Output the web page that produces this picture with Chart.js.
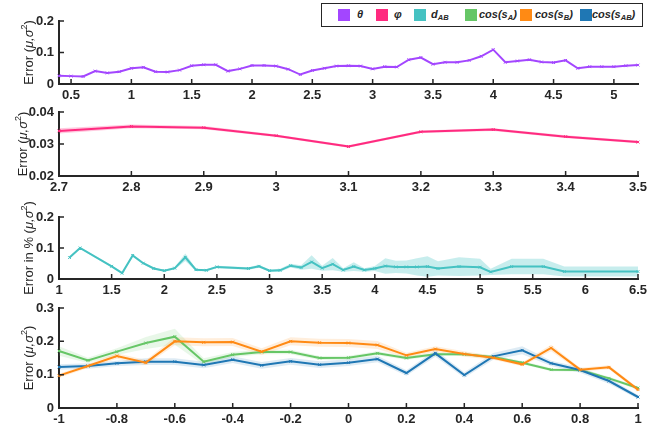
<!DOCTYPE html>
<html>
<head>
<meta charset="utf-8">
<script src="https://cdn.jsdelivr.net/npm/chart.js@4/dist/chart.umd.min.js"></script>
<style>
  html, body { margin: 0; padding: 0; background: #fff; }
  #wrap { position: relative; width: 665px; height: 427px; overflow: hidden; background: #fff; }
  #wrap canvas { position: absolute; left: 0; top: 0; }
  #legend {
    position: absolute; left: 321px; top: 3px; width: 322px; height: 24px;
    box-sizing: border-box; border: 1.5px solid #262626; background: #fff; z-index: 10;
    font-family: 'Liberation Sans', Arial, Helvetica, sans-serif;
    font-style: italic; font-weight: bold; font-size: 11px; color: #262626;
  }
  #legend .sw { position: absolute; top: 5px; width: 12px; height: 12px; }
  #legend .lb { position: absolute; top: 4px; line-height: 13px; white-space: nowrap; }
  #legend sub { font-size: 7.5px; vertical-align: -2px; line-height: 0; }
</style>
</head>
<body>
<div id="wrap">
  <canvas id="p1" width="665" height="427"></canvas>
  <canvas id="p2" width="665" height="427"></canvas>
  <canvas id="p3" width="665" height="427"></canvas>
  <canvas id="p4" width="665" height="427"></canvas>
  <div id="legend">
    <span class="sw" style="left:16px;background:#a346ff"></span><span class="lb" style="left:35px">θ</span>
    <span class="sw" style="left:54px;background:#ff2a7f"></span><span class="lb" style="left:72px">φ</span>
    <span class="sw" style="left:92px;background:#45c2c2"></span><span class="lb" style="left:109px">d<sub>AB</sub></span>
    <span class="sw" style="left:143px;background:#66c666"></span><span class="lb" style="left:157px">cos(s<sub>A</sub>)</span>
    <span class="sw" style="left:198px;background:#ff8a14"></span><span class="lb" style="left:213px">cos(s<sub>B</sub>)</span>
    <span class="sw" style="left:258px;background:#1f77b4"></span><span class="lb" style="left:270px">cos(s<sub>AB</sub>)</span>
  </div>
</div>
<script>
// ---- θ panel ----
const thetaX = [0.4, 0.5, 0.6, 0.7, 0.8, 0.9, 1.0, 1.1, 1.2, 1.3, 1.4, 1.5, 1.6, 1.7, 1.8, 1.9, 2.0,
  2.1, 2.2, 2.3, 2.4, 2.5, 2.6, 2.7, 2.8, 2.9, 3.0, 3.1, 3.2, 3.3, 3.4, 3.5, 3.6, 3.7, 3.8, 3.9,
  4.0, 4.1, 4.2, 4.3, 4.4, 4.5, 4.6, 4.7, 4.8, 4.9, 5.0, 5.1, 5.2];
const thetaErr = [0.026, 0.025, 0.024, 0.041, 0.035, 0.039, 0.050, 0.053, 0.039, 0.038, 0.044,
  0.058, 0.061, 0.061, 0.041, 0.048, 0.059, 0.059, 0.057, 0.047, 0.030, 0.043, 0.050, 0.057,
  0.058, 0.057, 0.048, 0.055, 0.054, 0.077, 0.084, 0.063, 0.069, 0.069, 0.075, 0.088, 0.109,
  0.069, 0.073, 0.077, 0.070, 0.068, 0.075, 0.050, 0.055, 0.055, 0.055, 0.058, 0.060];
const thetaTicksX = [0.5, 1, 1.5, 2, 2.5, 3, 3.5, 4, 4.5, 5];
const thetaTicksY = [0, 0.1, 0.2];

// ---- φ panel ----
const phiX = [2.7, 2.8, 2.9, 3.0, 3.1, 3.2, 3.3, 3.4, 3.5];
const phiErr = [0.0341, 0.0355, 0.0351, 0.0326, 0.0292, 0.0338, 0.0345, 0.0323, 0.0306];
const phiSpread = [0.0008, 0.0006, 0.0005, 0.0004, 0.0004, 0.0004, 0.0004, 0.0004, 0.0004];
const phiTicksX = [2.7, 2.8, 2.9, 3.0, 3.1, 3.2, 3.3, 3.4, 3.5];
const phiTicksY = [0.02, 0.03, 0.04];

// ---- d_AB panel ----
const dabX = [1.1, 1.2, 1.5, 1.6, 1.7, 1.8, 1.9, 2.0, 2.1, 2.2, 2.3, 2.4, 2.5, 2.8, 2.9, 3.0,
  3.1, 3.2, 3.3, 3.4, 3.5, 3.6, 3.7, 3.8, 3.9, 4.0, 4.1, 4.2, 4.3, 4.4, 4.5, 4.6, 4.8, 5.0,
  5.1, 5.3, 5.6, 5.8, 6.5];
const dabErr = [0.069, 0.100, 0.041, 0.019, 0.076, 0.051, 0.034, 0.027, 0.035, 0.070, 0.030,
  0.028, 0.039, 0.034, 0.041, 0.027, 0.028, 0.043, 0.037, 0.055, 0.035, 0.048, 0.029, 0.040,
  0.029, 0.034, 0.042, 0.039, 0.039, 0.039, 0.040, 0.034, 0.040, 0.038, 0.023, 0.040, 0.040,
  0.024, 0.024];
const dabSpread = [0.003, 0.003, 0.003, 0.003, 0.004, 0.004, 0.003, 0.003, 0.004, 0.012, 0.004,
  0.003, 0.004, 0.004, 0.005, 0.004, 0.005, 0.006, 0.007, 0.022, 0.008, 0.020, 0.006, 0.014,
  0.006, 0.008, 0.025, 0.020, 0.021, 0.028, 0.033, 0.023, 0.030, 0.027, 0.010, 0.025, 0.025,
  0.016, 0.016];
const dabTicksX = [1, 1.5, 2, 2.5, 3, 3.5, 4, 4.5, 5, 5.5, 6, 6.5];
const dabTicksY = [0, 0.1, 0.2];

// ---- cosine panel ----
const cosX = [-1, -0.9, -0.8, -0.7, -0.6, -0.5, -0.4, -0.3, -0.2, -0.1, 0, 0.1, 0.2, 0.3, 0.4,
  0.5, 0.6, 0.7, 0.8, 0.9, 1];
const cosA = [0.171, 0.143, 0.169, 0.195, 0.214, 0.139, 0.160, 0.168, 0.168, 0.150, 0.151,
  0.164, 0.150, 0.161, 0.161, 0.153, 0.136, 0.115, 0.114, 0.089, 0.060];
const cosASpread = [0.014, 0.008, 0.010, 0.018, 0.024, 0.010, 0.008, 0.007, 0.007, 0.006, 0.006,
  0.006, 0.005, 0.005, 0.005, 0.005, 0.005, 0.005, 0.005, 0.005, 0.005];
const cosB = [0.097, 0.126, 0.156, 0.136, 0.200, 0.197, 0.198, 0.169, 0.200, 0.196, 0.195,
  0.189, 0.158, 0.177, 0.162, 0.151, 0.131, 0.180, 0.115, 0.122, 0.055];
const cosBSpread = [0.006, 0.006, 0.008, 0.008, 0.012, 0.012, 0.012, 0.010, 0.012, 0.012, 0.012,
  0.012, 0.008, 0.008, 0.008, 0.006, 0.006, 0.010, 0.006, 0.006, 0.006];
const cosAB = [0.123, 0.126, 0.134, 0.139, 0.139, 0.129, 0.145, 0.128, 0.140, 0.130, 0.136,
  0.147, 0.105, 0.164, 0.099, 0.155, 0.173, 0.134, 0.114, 0.081, 0.033];
const cosABSpread = [0.008, 0.008, 0.008, 0.010, 0.010, 0.010, 0.010, 0.010, 0.010, 0.010, 0.010,
  0.010, 0.008, 0.010, 0.008, 0.010, 0.012, 0.008, 0.008, 0.008, 0.006];
const cosTicksX = [-1, -0.8, -0.6, -0.4, -0.2, 0, 0.2, 0.4, 0.6, 0.8, 1];
const cosTicksY = [0, 0.1, 0.2, 0.3];

// ---- styling ----
const FONT = "'Liberation Sans', Arial, Helvetica, sans-serif";
const AXIS = '#262626';
const COLORS = {
  theta: '#a346ff', phi: '#ff2a7f', dab: '#45c2c2',
  cosA: '#66c666', cosB: '#ff8a14', cosAB: '#1f77b4'
};

function rgba(hex, a) {
  const n = parseInt(hex.slice(1), 16);
  return `rgba(${(n >> 16) & 255},${(n >> 8) & 255},${n & 255},${a})`;
}

function line(xs, ys, color) {
  return {
    data: xs.map((x, i) => ({ x, y: ys[i] })),
    borderColor: color, backgroundColor: color,
    borderWidth: 2, tension: 0, fill: false, clip: false,
    pointStyle: 'crossRot', pointRadius: 2, pointBorderWidth: 1,
    pointBorderColor: color, order: 0
  };
}

// mean ± spread drawn as a translucent ribbon (two edge datasets filled between)
function band(xs, ys, sp, color, alpha) {
  const edge = {
    borderColor: 'rgba(0,0,0,0)', borderWidth: 1, pointRadius: 0, tension: 0, order: 1
  };
  return [
    Object.assign({}, edge, { data: xs.map((x, i) => ({ x, y: ys[i] - sp[i] })), fill: false }),
    Object.assign({}, edge, {
      data: xs.map((x, i) => ({ x, y: ys[i] + sp[i] })),
      fill: '-1', backgroundColor: rgba(color, alpha)
    })
  ];
}

// inward tick marks and the rotated y-axis caption with italic symbols / superscript
const panelFrame = {
  id: 'panelFrame',
  afterDraw(chart, args, opts) {
    const { ctx, chartArea: { left, top, bottom }, scales: { x, y } } = chart;
    ctx.save();
    ctx.strokeStyle = AXIS;
    ctx.lineWidth = 1.5;
    ctx.beginPath();
    x.ticks.forEach(t => {
      const px = x.getPixelForValue(t.value);
      ctx.moveTo(px, bottom);
      ctx.lineTo(px, bottom - 5);
    });
    y.ticks.forEach(t => {
      const py = y.getPixelForValue(t.value);
      ctx.moveTo(left, py);
      ctx.lineTo(left + 5, py);
    });
    ctx.stroke();

    ctx.translate(opts.titleX, (top + bottom) / 2);
    ctx.rotate(-Math.PI / 2);
    ctx.fillStyle = AXIS;
    ctx.textBaseline = 'alphabetic';
    let w = 0;
    opts.title.forEach(p => { ctx.font = p.font; p.w = ctx.measureText(p.text).width; w += p.w; });
    let cx = -w / 2;
    opts.title.forEach(p => {
      ctx.font = p.font;
      ctx.fillText(p.text, cx, 5 + (p.dy || 0));
      cx += p.w;
    });
    ctx.restore();
  }
};

function caption(prefix) {
  return [
    { text: prefix + ' (', font: `13px ${FONT}` },
    { text: 'μ,σ', font: `italic 13px ${FONT}` },
    { text: '2', font: `9px ${FONT}`, dy: -6 },
    { text: ')', font: `13px ${FONT}` }
  ];
}

function fmt(v) { return String(+v.toFixed(3)); }

function panel(id, top, bottom, xRange, xTicks, yRange, yTicks, datasets, title, titleX) {
  const tickFont = { family: FONT, size: 13, weight: 'bold' };
  return new Chart(document.getElementById(id), {
    type: 'line',
    data: { datasets },
    options: {
      responsive: false, animation: false, devicePixelRatio: 1, events: [],
      layout: { padding: { left: 0, right: 27, top: top, bottom: 427 - bottom - 22 } },
      plugins: {
        legend: { display: false }, tooltip: { enabled: false },
        panelFrame: { title, titleX }
      },
      scales: {
        x: {
          type: 'linear', min: xRange[0], max: xRange[1],
          afterBuildTicks: s => { s.ticks = xTicks.map(v => ({ value: v })); },
          afterFit: s => { s.height = 22; },
          grid: { display: false, drawTicks: false },
          border: { display: true, color: AXIS, width: 2 },
          ticks: { padding: 4, color: AXIS, font: tickFont, maxRotation: 0, autoSkip: false,
                   callback: v => fmt(v) }
        },
        y: {
          type: 'linear', min: yRange[0], max: yRange[1],
          afterBuildTicks: s => { s.ticks = yTicks.map(v => ({ value: v })); },
          afterFit: s => { s.width = 59; },
          grid: { display: false, drawTicks: false },
          border: { display: true, color: AXIS, width: 2 },
          ticks: { padding: 5, color: AXIS, font: tickFont, callback: v => fmt(v) }
        }
      }
    },
    plugins: [panelFrame]
  });
}

panel('p1', 21, 84, [0.4, 5.2], thetaTicksX, [0, 0.2], thetaTicksY,
  [line(thetaX, thetaErr, COLORS.theta)], caption('Error'), 27.5);

panel('p2', 112, 176, [2.7, 3.5], phiTicksX, [0.02, 0.04], phiTicksY,
  [line(phiX, phiErr, COLORS.phi), ...band(phiX, phiErr, phiSpread, COLORS.phi, 0.25)],
  caption('Error'), 21.5);

panel('p3', 217, 279, [1, 6.5], dabTicksX, [0, 0.2], dabTicksY,
  [line(dabX, dabErr, COLORS.dab), ...band(dabX, dabErr, dabSpread, COLORS.dab, 0.3)],
  caption('Error in %'), 28);

panel('p4', 308, 408, [-1, 1], cosTicksX, [0, 0.3], cosTicksY,
  [line(cosX, cosB, COLORS.cosB), line(cosX, cosAB, COLORS.cosAB), line(cosX, cosA, COLORS.cosA),
   ...band(cosX, cosB, cosBSpread, COLORS.cosB, 0.15),
   ...band(cosX, cosAB, cosABSpread, COLORS.cosAB, 0.15),
   ...band(cosX, cosA, cosASpread, COLORS.cosA, 0.15)],
  caption('Error'), 27.5);
</script>
</body>
</html>
